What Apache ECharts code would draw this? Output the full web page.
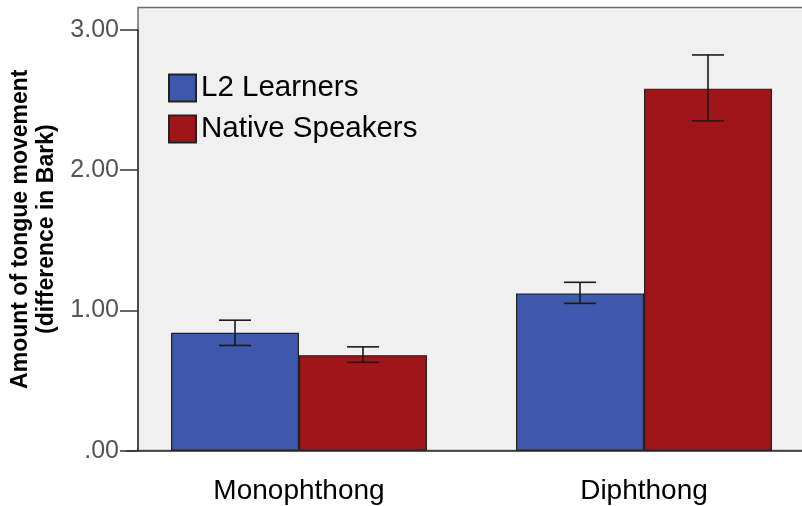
<!DOCTYPE html>
<html>
<head>
<meta charset="utf-8">
<script src="https://cdn.jsdelivr.net/npm/echarts@6/dist/echarts.min.js"></script>
<style>
  html, body { margin: 0; padding: 0; background: #fff; }
  #chart { width: 802px; height: 506px; }
</style>
</head>
<body>
<div id="chart"></div>
<script>
const categories = ['Monophthong', 'Diphthong'];
const seriesNames = ['L2 Learners', 'Native Speakers'];
const l2Means = [0.84, 1.12];
const l2Low = [0.75, 1.05];
const l2High = [0.93, 1.20];
const nativeMeans = [0.68, 2.58];
const nativeLow = [0.63, 2.35];
const nativeHigh = [0.74, 2.82];
const yTicks = [0, 1, 2, 3];

const BAR_W = 128;
const chart = echarts.init(document.getElementById('chart'));

function errorSeries(low, high, shift) {
  return {
    type: 'custom',
    z: 5,
    data: categories.map((c, i) => [i, low[i], high[i]]),
    renderItem: (params, api) => {
      const lo = api.coord([api.value(0), api.value(1)]);
      const hi = api.coord([api.value(0), api.value(2)]);
      const x = lo[0] + shift;
      const hw = 16;
      const style = { stroke: '#1a1a1a', lineWidth: 1.6 };
      return {
        type: 'group',
        children: [
          { type: 'line', shape: { x1: x, y1: lo[1], x2: x, y2: hi[1] }, style },
          { type: 'line', shape: { x1: x - hw, y1: lo[1], x2: x + hw, y2: lo[1] }, style },
          { type: 'line', shape: { x1: x - hw, y1: hi[1], x2: x + hw, y2: hi[1] }, style }
        ]
      };
    }
  };
}

const option = {
  animation: false,
  textStyle: { fontFamily: 'Liberation Sans, Arial, sans-serif' },
  graphic: [{
    type: 'rect',
    z: -1,
    silent: true,
    shape: { x: 138, y: 7.5, width: 720, height: 443 },
    style: { fill: '#f0f0f0', stroke: '#6e6e6e', lineWidth: 1.5 }
  }],
  grid: { left: 126.5, width: 690, top: 29.7, bottom: 55.3, outerBoundsMode: 'none', containLabel: false },
  legend: {
    orient: 'vertical',
    left: 168,
    top: 73,
    padding: 0,
    itemWidth: 27,
    itemHeight: 27,
    itemGap: 11,
    icon: 'rect',
    textStyle: { fontSize: 29.5, lineHeight: 27, color: '#000', fontFamily: 'Liberation Sans, Arial, sans-serif' },
    data: seriesNames
  },
  xAxis: {
    type: 'category',
    data: categories,
    axisLine: { lineStyle: { color: '#333', width: 1.5 } },
    axisTick: { alignWithLabel: true, length: 19, lineStyle: { color: '#333', width: 1.5 } },
    axisLabel: { fontSize: 28, color: '#000', margin: 27 }
  },
  yAxis: {
    type: 'value',
    min: yTicks[0],
    max: yTicks[yTicks.length - 1],
    interval: 1,
    offset: -11.5,
    name: 'Amount of tongue movement\n(difference in Bark)',
    nameLocation: 'middle',
    nameRotate: 90,
    nameGap: 77,
    nameTextStyle: { fontSize: 23, fontWeight: 'bold', color: '#000', lineHeight: 26, padding: [0, 0, 0, 22] },
    splitLine: { show: false },
    axisLine: { show: true, lineStyle: { color: '#333', width: 1.5 } },
    axisTick: { show: true, length: 18, lineStyle: { color: '#333', width: 1.5 } },
    axisLabel: {
      fontSize: 25,
      color: '#555',
      margin: 19,
      formatter: v => v === 0 ? '.00' : v.toFixed(2)
    }
  },
  series: [
    {
      name: seriesNames[0],
      type: 'bar',
      barWidth: BAR_W,
      barGap: '0%',
      data: l2Means,
      itemStyle: { color: '#3e58ab', borderColor: '#222', borderWidth: 1.2 }
    },
    {
      name: seriesNames[1],
      type: 'bar',
      barWidth: BAR_W,
      barGap: '0%',
      data: nativeMeans,
      itemStyle: { color: '#a0151a', borderColor: '#222', borderWidth: 1.2 }
    },
    errorSeries(l2Low, l2High, -BAR_W / 2),
    errorSeries(nativeLow, nativeHigh, BAR_W / 2)
  ]
};

chart.setOption(option);
</script>
</body>
</html>
